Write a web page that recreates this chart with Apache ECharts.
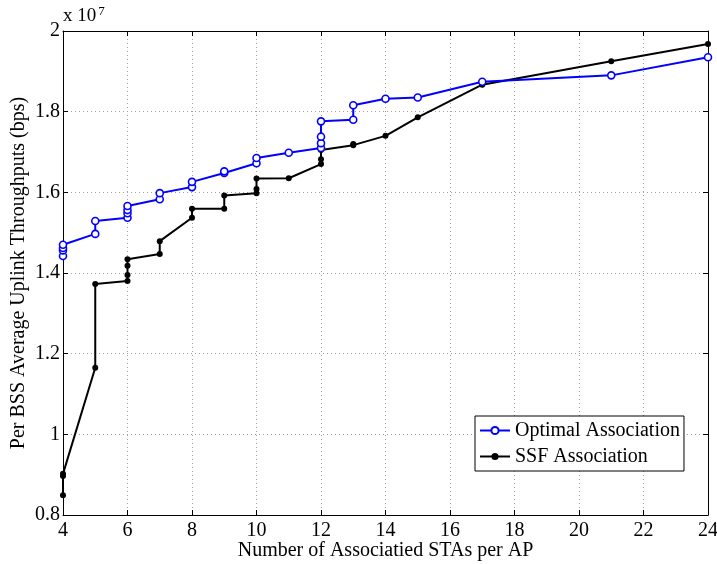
<!DOCTYPE html>
<html>
<head>
<meta charset="utf-8">
<script src="https://cdn.jsdelivr.net/npm/echarts@6/dist/echarts.min.js"></script>
<style>html,body{margin:0;padding:0;background:#fff;}#c{width:717px;height:564px;}</style>
</head>
<body>
<div id="c"></div>
<script>
// Data (values in units of 1e7 bps)
const optX = [4, 4, 4, 4, 5, 5, 6, 6, 6, 6, 7, 7, 8, 8, 9, 9, 10, 10, 11, 12, 12, 12, 12, 13, 13, 14, 15, 17, 21, 24];
const optY = [1.442, 1.456, 1.462, 1.470, 1.497, 1.529, 1.537, 1.548, 1.556, 1.566, 1.583, 1.598, 1.613, 1.626, 1.648, 1.652, 1.672, 1.685, 1.698, 1.710, 1.722, 1.738, 1.776, 1.780, 1.816, 1.832, 1.835, 1.874, 1.890, 1.935];
const ssfX = [4, 4, 4, 5, 5, 6, 6, 6, 6, 7, 7, 8, 8, 9, 9, 10, 10, 10, 11, 12, 12, 12, 13, 13, 14, 15, 17, 21, 24];
const ssfY = [0.849, 0.897, 0.902, 1.165, 1.373, 1.380, 1.395, 1.418, 1.434, 1.447, 1.479, 1.537, 1.559, 1.559, 1.592, 1.598, 1.608, 1.634, 1.635, 1.670, 1.682, 1.705, 1.717, 1.720, 1.740, 1.786, 1.867, 1.925, 1.968];
const xTicks = [4, 6, 8, 10, 12, 14, 16, 18, 20, 22, 24];
const yTicks = [0.8, 1, 1.2, 1.4, 1.6, 1.8, 2];
const seriesNames = ['Optimal Association', 'SSF Association'];

const font = 'Liberation Serif, Times New Roman, serif';
const chart = echarts.init(document.getElementById('c'));
const zip = (xs, ys) => xs.map((x, i) => [x, ys[i]]);
const gridLine = {show: true, lineStyle: {color: '#a0a0a0', type: [1, 3], width: 1}};
const axisLine = {show: true, onZero: false, lineStyle: {color: '#000', width: 1}};
const tick = {show: true, inside: true, length: 5, lineStyle: {color: '#000'}};

chart.setOption({
  animation: false,
  backgroundColor: '#fff',
  grid: {left: 63, right: 9, top: 31, bottom: 49, containLabel: false, outerBoundsMode: 'none'},
  xAxis: [{
    type: 'value', min: xTicks[0], max: xTicks[xTicks.length - 1], interval: 2,
    axisLine: axisLine, axisTick: tick, splitLine: gridLine,
    axisLabel: {color: '#000', fontFamily: font, fontSize: 20, margin: 6},
    name: 'Number of Associatied STAs per AP', nameLocation: 'middle', nameGap: 26, nameMoveOverlap: false,
    nameTextStyle: {color: '#000', fontFamily: font, fontSize: 20}
  }, {
    type: 'value', position: 'top', min: 4, max: 24, interval: 2,
    axisLine: axisLine, axisTick: tick, splitLine: {show: false}, axisLabel: {show: false}
  }],
  yAxis: [{
    type: 'value', min: yTicks[0], max: yTicks[yTicks.length - 1], interval: 0.2,
    axisLine: axisLine, axisTick: tick, splitLine: gridLine,
    axisLabel: {color: '#000', fontFamily: font, fontSize: 20, margin: 3},
    name: 'Per BSS Average Uplink Throughputs (bps)', nameLocation: 'middle', nameGap: 34, nameMoveOverlap: false,
    nameTextStyle: {color: '#000', fontFamily: font, fontSize: 20}
  }, {
    type: 'value', position: 'right', min: 0.8, max: 2, interval: 0.2,
    axisLine: axisLine, axisTick: tick, splitLine: {show: false}, axisLabel: {show: false}
  }],
  legend: {
    orient: 'vertical', left: 475, top: 416,
    backgroundColor: '#fff', borderColor: '#000', borderWidth: 1, borderRadius: 0,
    padding: [3, 4, 3, 4], itemGap: 3, itemWidth: 30, itemHeight: 9,
    textStyle: {color: '#000', fontFamily: font, fontSize: 20, lineHeight: 23},
    data: seriesNames
  },
  graphic: [{
    type: 'text', left: 63, top: 5,
    style: {
      text: '{a|x 10}{b|7}',
      rich: {
        a: {fontFamily: font, fontSize: 19, fill: '#000'},
        b: {fontFamily: font, fontSize: 13, fill: '#000', verticalAlign: 'top', padding: [0, 0, 9, 2]}
      }
    }
  }],
  series: [{
    name: seriesNames[0], type: 'line', data: zip(optX, optY),
    symbol: 'circle', symbolSize: 7, showAllSymbol: true,
    lineStyle: {color: '#0000ff', width: 2},
    itemStyle: {color: '#fff', borderColor: '#0000ff', borderWidth: 1.6},
    z: 3
  }, {
    name: seriesNames[1], type: 'line', data: zip(ssfX, ssfY),
    symbol: 'circle', symbolSize: 6, showAllSymbol: true,
    lineStyle: {color: '#000', width: 2},
    itemStyle: {color: '#000', borderColor: '#000', borderWidth: 0},
    z: 2
  }]
});
</script>
</body>
</html>
